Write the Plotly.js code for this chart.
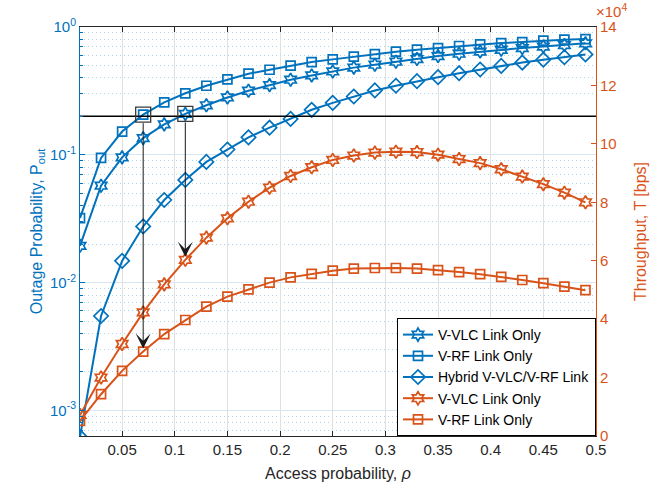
<!DOCTYPE html>
<html>
<head>
<meta charset="utf-8">
<script src="https://cdn.plot.ly/plotly-3.0.1.min.js"></script>
<style>html,body{margin:0;padding:0;background:#fff;}#chart{width:670px;height:489px;}</style>
</head>
<body>
<div id="chart"></div>
<script>
// Access probability (x)
const rho = [0.01,0.03,0.05,0.07,0.09,0.11,0.13,0.15,0.17,0.19,0.21,0.23,0.25,0.27,0.29,0.31,0.33,0.35,0.37,0.39,0.41,0.43,0.45,0.47,0.49];
// Outage probability (left, log)
const outVLC = [0.0194,0.0573,0.0955,0.135,0.173,0.209,0.244,0.281,0.317,0.351,0.387,0.418,0.449,0.481,0.507,0.535,0.561,0.592,0.618,0.642,0.664,0.684,0.703,0.722,0.745];
const outRF  = [0.032,0.0946,0.152,0.206,0.257,0.303,0.347,0.389,0.431,0.463,0.498,0.532,0.558,0.586,0.614,0.641,0.665,0.684,0.71,0.732,0.749,0.762,0.782,0.796,0.805];
const outHyb = [0.00062,0.00548,0.0148,0.0275,0.0443,0.0636,0.088,0.11,0.137,0.163,0.191,0.225,0.255,0.286,0.319,0.347,0.377,0.405,0.435,0.465,0.496,0.527,0.555,0.58,0.61];
// Throughput (right, x10^4 bps)
const thrVLC = [0.72,2.0,3.15,4.23,5.19,6.03,6.79,7.45,8.02,8.5,8.9,9.2,9.45,9.6,9.7,9.73,9.72,9.63,9.48,9.34,9.13,8.88,8.62,8.33,8.0];
const thrRF  = [0.52,1.43,2.23,2.89,3.49,3.97,4.43,4.77,5.02,5.25,5.43,5.55,5.66,5.73,5.75,5.75,5.73,5.68,5.61,5.54,5.45,5.34,5.23,5.11,4.99];
// Threshold and highlighted points
const threshold = 0.2;
const markIdxRF = 3;   // rho = 0.07
const markIdxVLC = 5;  // rho = 0.11
const names = ['V-VLC Link Only','V-RF Link Only','Hybrid V-VLC/V-RF Link','V-VLC Link Only','V-RF Link Only'];
const xTicks = [0.05,0.1,0.15,0.2,0.25,0.3,0.35,0.4,0.45,0.5];
const yLogTicks = [0.001,0.01,0.1,1];
const yLogText = ['10<sup>-3</sup>','10<sup>-2</sup>','10<sup>-1</sup>','10<sup>0</sup>'];

const BLUE = '#0072BD', ORANGE = '#D95319', DARK = '#262626';
const yLogRange = [-3.2, 0];
const y2Range = [0, 14];

function tr(y, name, color, symbol, size, axis) {
  return {x: rho, y: y, name: name, yaxis: axis, type: 'scatter', mode: 'lines+markers',
    line: {color: color, width: 2},
    marker: {symbol: symbol, size: size, color: color, line: {color: color, width: 1.7}}};
}
const data = [
  tr(outVLC, names[0], BLUE, 'hexagram-open', 10, 'y'),
  tr(outRF, names[1], BLUE, 'square-open', 9, 'y'),
  tr(outHyb, names[2], BLUE, 'diamond-open', 11, 'y'),
  tr(thrVLC, names[3], ORANGE, 'hexagram-open', 10, 'y2'),
  tr(thrRF, names[4], ORANGE, 'square-open', 9, 'y2'),
  {x: [rho[0], 0.5], y: [threshold, threshold], yaxis: 'y', mode: 'lines', showlegend: false,
   line: {color: '#000', width: 1.5}, hoverinfo: 'skip'},
  {x: [rho[markIdxRF], rho[markIdxVLC]], y: [outRF[markIdxRF], outVLC[markIdxVLC]], yaxis: 'y',
   mode: 'markers', showlegend: false,
   marker: {symbol: 'square-open', size: 15, color: '#3a3a3a', line: {color: '#3a3a3a', width: 1.3}}}
];

// convert a left-log value to right-axis units, minus a pixel offset (for arrow tails at box bottoms)
const plotH = 489 - 27 - 53;
function logToY2(v, pxDown) {
  const frac = (Math.log10(v) - yLogRange[0]) / (yLogRange[1] - yLogRange[0]);
  return y2Range[0] + frac * (y2Range[1] - y2Range[0]) - pxDown * (y2Range[1] - y2Range[0]) / plotH;
}
function arrow(xv, tipY2, boxVal) {
  return {x: xv, y: tipY2, xref: 'x', yref: 'y2', ax: xv, ay: logToY2(boxVal, 7),
    axref: 'x', ayref: 'y2', showarrow: true, arrowhead: 3, arrowsize: 2.5, arrowwidth: 1,
    arrowcolor: '#1a1a1a', standoff: 3, text: ''};
}

const FAM = '"Liberation Sans", Arial, Helvetica, sans-serif';
const tickFont = {family: FAM, size: 15};
const layout = {
  width: 670, height: 489,
  margin: {l: 80, r: 74, t: 27, b: 53},
  paper_bgcolor: '#fff', plot_bgcolor: '#fff',
  font: {family: FAM, size: 15, color: DARK},
  showlegend: true,
  legend: {x: 1, xanchor: 'right', y: 0, yanchor: 'bottom', bgcolor: '#fff',
    bordercolor: '#000', borderwidth: 1, font: {family: FAM, size: 14, color: '#000'}, tracegroupgap: 0},
  xaxis: {range: [0.01, 0.5], tickmode: 'array', tickvals: xTicks, ticks: 'inside', ticklen: 5,
    tickcolor: DARK, showline: true, linecolor: DARK, linewidth: 1, mirror: 'ticks',
    showgrid: true, gridcolor: '#e0e0e0', zeroline: false, tickfont: Object.assign({color: DARK}, tickFont),
    title: {text: 'Access probability, <i>ρ</i>', font: {family: FAM, size: 16, color: DARK}, standoff: 10}},
  yaxis: {type: 'log', range: yLogRange, tickmode: 'array', tickvals: yLogTicks, ticktext: yLogText,
    ticks: 'inside', ticklen: 5, tickcolor: BLUE, showline: true, linecolor: BLUE, linewidth: 1,
    showgrid: true, gridcolor: '#d8e6f2', zeroline: false,
    tickfont: Object.assign({color: BLUE}, tickFont),
    minor: {tickmode: 'linear', dtick: 'D1', ticks: 'inside', ticklen: 3, tickcolor: BLUE,
      showgrid: true, gridcolor: 'rgba(0,114,189,0.3)', griddash: '1px,3px', gridwidth: 1},
    title: {text: 'Outage Probability, P<sub>out</sub>', font: {family: FAM, size: 16, color: BLUE}, standoff: 3}},
  yaxis2: {overlaying: 'y', side: 'right', range: y2Range, dtick: 2, tick0: 0, ticks: 'inside', ticklen: 5,
    tickcolor: ORANGE, showline: true, linecolor: ORANGE, linewidth: 1, showgrid: false, zeroline: false,
    tickfont: Object.assign({color: ORANGE}, tickFont),
    title: {text: 'Throughput, T [bps]', font: {family: FAM, size: 16, color: ORANGE}, standoff: 19}},
  annotations: [
    arrow(rho[markIdxRF], thrRF[markIdxRF], outRF[markIdxRF]),
    arrow(rho[markIdxVLC], thrVLC[markIdxVLC], outVLC[markIdxVLC]),
    {xref: 'paper', yref: 'paper', x: 1, y: 1, xanchor: 'left', yanchor: 'bottom', xshift: -2, yshift: 5,
     showarrow: false, text: '×10<sup>4</sup>', font: {family: FAM, size: 15, color: ORANGE}}
  ]
};
Plotly.newPlot('chart', data, layout, {displayModeBar: false, staticPlot: true});
</script>
</body>
</html>
